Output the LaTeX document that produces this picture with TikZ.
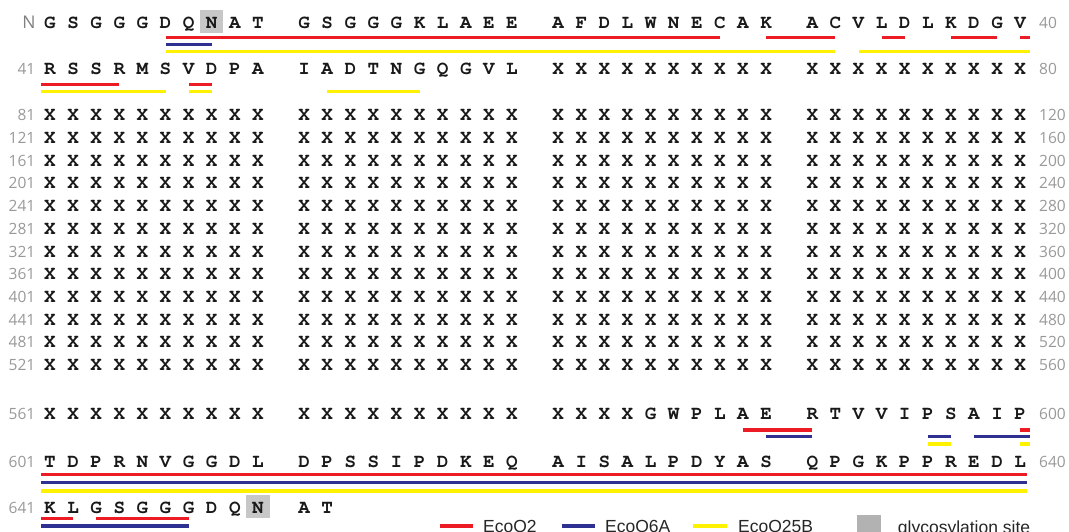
\documentclass[tikz,border=0pt]{standalone}
\usepackage[T1]{fontenc}
\usepackage{fontspec}
\usetikzlibrary{positioning,backgrounds}
\newfontfamily\numfont{Open Sans}
\newfontfamily\legfont{Liberation Sans}
\definecolor{ecored}{HTML}{ED1C24}
\definecolor{ecoblue}{HTML}{2E3192}
\definecolor{ecoyellow}{HTML}{FFF200}
\tikzset{res/.style={font=\fontencoding{T1}\fontfamily{pcr}\fontseries{b}\fontsize{19.25}{20}\selectfont,
  text=black!90,inner sep=0pt,text height=11pt,text depth=0pt},
  num/.style={font=\numfont\fontsize{15.5}{15.5}\selectfont,text=black!40,inner sep=0pt,text height=11pt,text depth=0pt},
  o2line/.style={draw=ecored,line width=3.3pt},o6line/.style={draw=ecoblue,line width=3.3pt},
  o25line/.style={draw=ecoyellow,line width=3.3pt},
  glybox/.style={fill=black!22,inner sep=0pt,minimum size=23.3pt},
  legtext/.style={font=\legfont\fontsize{17.5}{18}\selectfont,text=black!85,inner sep=0pt,text height=12.5pt,text depth=0pt}}
\newcommand\seqrow[3]{\foreach \s [count=\col from 0] in {#3}{%
  \pgfmathtruncatemacro\rn{#1+\col}\pgfmathsetmacro\xx{50+23.1*(\col+floor(\col/10))}%
  \node[res] (r\rn) at ({\xx},{#2}) {\s};}}

\begin{document}
\begin{tikzpicture}[x=1pt,y=-1pt]
\path[use as bounding box] (0,0) rectangle (1069,532);
\seqrow{1}{22.8}{G,S,G,G,G,D,Q,N,A,T,G,S,G,G,G,K,L,A,E,E,A,F,D,L,W,N,E,C,A,K,A,C,V,L,D,L,K,D,G,V}
\seqrow{41}{69}{R,S,S,R,M,S,V,D,P,A,I,A,D,T,N,G,Q,G,V,L,X,X,X,X,X,X,X,X,X,X,X,X,X,X,X,X,X,X,X,X}
\foreach \row [count=\j from 0] in {81,121,...,521}{
  \seqrow{\row}{115.3+22.7*\j}{X,X,X,X,X,X,X,X,X,X,X,X,X,X,X,X,X,X,X,X,X,X,X,X,X,X,X,X,X,X,X,X,X,X,X,X,X,X,X,X}
  \pgfmathtruncatemacro\rowend{\row+39}
  \node[num,anchor=east] (lab\row) at (35.5,{115.3+22.7*\j}) {\row};
  \node[num,anchor=west] (lab\rowend) at (1039,{115.3+22.7*\j}) {\rowend};
}
\seqrow{561}{414}{X,X,X,X,X,X,X,X,X,X,X,X,X,X,X,X,X,X,X,X,X,X,X,X,G,W,P,L,A,E,R,T,V,V,I,P,S,A,I,P}
\seqrow{601}{461.5}{T,D,P,R,N,V,G,G,D,L,D,P,S,S,I,P,D,K,E,Q,A,I,S,A,L,P,D,Y,A,S,Q,P,G,K,P,P,R,E,D,L}
\seqrow{641}{508}{K,L,G,S,G,G,G,D,Q,N,A,T}

\node[num,anchor=east,font=\numfont\fontsize{17.5}{17.5}\selectfont,text=black!50,text height=12.6pt] (nterm) at (35.8,22.3) {N};
\foreach \row/\yy in {41/69,561/414,601/461.5,641/508}
  \node[num,anchor=east] (lab\row) at (35.5,\yy) {\row};
\foreach \row/\yy in {40/22.8,80/69,600/414,640/461.5}
  \node[num,anchor=west] (lab\row) at (1039,\yy) {\row};

\begin{scope}[on background layer]
\fill[white] (0,0) rectangle (1069,532);
\node[glybox] (gly8) at ([yshift=1.2pt]r8.center) {};
\node[glybox] (gly650) at ([yshift=1.2pt]r650.center) {};
\end{scope}

\coordinate (end40) at ([xshift=9.8pt]r40.center);
\coordinate (beg41) at ([xshift=-9.3pt]r41.center);
\coordinate (end600) at ([xshift=9.8pt]r600.center);
\coordinate (beg601) at ([xshift=-9.3pt]r601.center);
\coordinate (end640) at ([xshift=7pt]r640.center);
\coordinate (beg641) at ([xshift=-9.3pt]r641.center);

\foreach \a/\b/\dy in {r6/r28/15,r30/r32/15,r34/r35/15,r37/r39/15,r40/end40/15,beg41/r44/15.5,r47/r48/15.5,
  r589/r591/16,r600/end600/16,beg601/end640/13,beg641/r642/10.5,r643/r647/10.5}
  \draw[o2line] ([yshift=-\dy pt]\a.center) -- ([yshift=-\dy pt]\b.center);
\foreach \a/\b/\dy in {r6/r8/21.5,r590/r591/22.7,r596/r597/22.7,r598/end600/22.7,beg601/end640/21,beg641/r647/18}
  \draw[o6line] ([yshift=-\dy pt]\a.center) -- ([yshift=-\dy pt]\b.center);
\foreach \a/\b/\dy in {r6/r32/28.5,r33/end40/28.5,beg41/r46/22.5,r47/r48/22.5,r52/r56/22.5,
  r596/r597/30,r600/end600/30,beg601/end640/29.5}
  \draw[o25line] ([yshift=-\dy pt]\a.center) -- ([yshift=-\dy pt]\b.center);

\coordinate (k2a) at (440,526); \coordinate (k2b) at (473,526);
\draw[o2line] (k2a) -- (k2b);
\node[legtext,right=10pt of k2b] (k2txt) {EcoO2};
\coordinate (k6a) at (561.7,526); \coordinate (k6b) at (595,526);
\draw[o6line] (k6a) -- (k6b);
\node[legtext,right=10pt of k6b] (k6txt) {EcoO6A};
\coordinate (k25a) at (693,526); \coordinate (k25b) at (727,526);
\draw[o25line] (k25a) -- (k25b);
\node[legtext,right=11pt of k25b] (k25txt) {EcoO25B};
\node[glybox,fill=black!30,minimum size=24pt] (kgly) at (869,527) {};
\node[legtext,right=16.5pt of kgly] (kglytxt) {glycosylation site};
\end{tikzpicture}
\end{document}
